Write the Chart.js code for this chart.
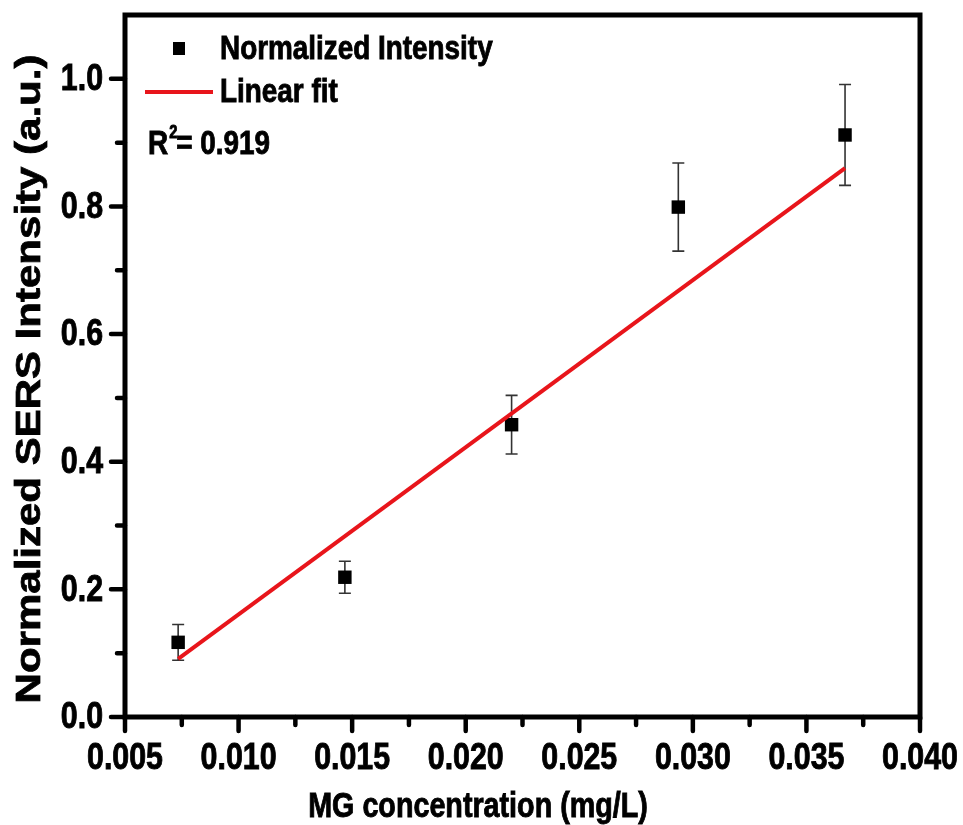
<!DOCTYPE html>
<html>
<head>
<meta charset="utf-8">
<script src="https://cdn.jsdelivr.net/npm/chart.js@4.4.1/dist/chart.umd.min.js"></script>
<style>
  html, body { margin: 0; padding: 0; background: #fff; }
  #wrap { width: 963px; height: 825px; }
</style>
</head>
<body>
<div id="wrap"><canvas id="grafico" width="963" height="825"></canvas></div>
<script>
// MG concentration (mg/L) and measured normalized SERS intensity
const concentrations = [0.00734, 0.01468, 0.02202, 0.02936, 0.0367];
const intensity = [0.117, 0.219, 0.458, 0.799, 0.912];
const intensityErr = [0.028, 0.025, 0.046, 0.069, 0.079];

// linear fit end points
const fitX = [0.00734, 0.0367];
const fitY = [0.091, 0.860];

const xTicks = [0.005, 0.010, 0.015, 0.020, 0.025, 0.030, 0.035, 0.040];
const yTicks = [0.0, 0.2, 0.4, 0.6, 0.8, 1.0];
const xMinor = [0.0075, 0.0125, 0.0175, 0.0225, 0.0275, 0.0325, 0.0375];
const yMinor = [0.1, 0.3, 0.5, 0.7, 0.9];

const legendLabels = ['Normalized Intensity', 'Linear fit'];
const r2Text = '0.919';
const xTitle = 'MG concentration (mg/L)';
const yTitle = 'Normalized SERS Intensity (a.u.)';

const FONT = '"Liberation Sans", Arial, sans-serif';
const SQUEEZE = 0.82; // el original tiene el texto estrechado

// texto en negrita, estrechado en horizontal (con un trazo fino para engordarlo)
function drawText(ctx, text, x, y, size, align, baseline) {
    ctx.save();
    ctx.translate(x, y);
    ctx.scale(SQUEEZE, 1);
    ctx.font = 'bold ' + size + 'px ' + FONT;
    ctx.textAlign = align;
    ctx.textBaseline = baseline;
    ctx.fillStyle = '#000';
    ctx.strokeStyle = '#000';
    ctx.lineWidth = 0.9;
    ctx.fillText(text, 0, 0);
    ctx.strokeText(text, 0, 0);
    const w = ctx.measureText(text).width * SQUEEZE;
    ctx.restore();
    return w;
}

// barras de error, debajo de los puntos
const errorBars = {
    id: 'errorBars',
    beforeDatasetsDraw(chart) {
        const { ctx, scales: { x, y } } = chart;
        ctx.save();
        ctx.strokeStyle = '#333';
        ctx.lineWidth = 1.6;
        concentrations.forEach((c, i) => {
            const px = x.getPixelForValue(c);
            const top = y.getPixelForValue(intensity[i] + intensityErr[i]);
            const bot = y.getPixelForValue(intensity[i] - intensityErr[i]);
            ctx.beginPath();
            ctx.moveTo(px, top); ctx.lineTo(px, bot);
            ctx.moveTo(px - 6, top); ctx.lineTo(px + 6, top);
            ctx.moveTo(px - 6, bot); ctx.lineTo(px + 6, bot);
            ctx.stroke();
        });
        ctx.restore();
    }
};

// marco, marcas y etiquetas de los ejes
const frame = {
    id: 'frame',
    afterDatasetsDraw(chart) {
        const { ctx, chartArea: a, scales: { x, y } } = chart;
        ctx.save();
        ctx.strokeStyle = '#000';
        ctx.lineWidth = 5;
        ctx.strokeRect(a.left, a.top, a.right - a.left, a.bottom - a.top);
        ctx.lineWidth = 4.5;
        ctx.lineCap = 'round';
        ctx.beginPath();
        xTicks.forEach(v => { const p = x.getPixelForValue(v); ctx.moveTo(p, a.bottom); ctx.lineTo(p, a.bottom + 14); });
        xMinor.forEach(v => { const p = x.getPixelForValue(v); ctx.moveTo(p, a.bottom); ctx.lineTo(p, a.bottom + 8); });
        yTicks.forEach(v => { const p = y.getPixelForValue(v); ctx.moveTo(a.left, p); ctx.lineTo(a.left - 14, p); });
        yMinor.forEach(v => { const p = y.getPixelForValue(v); ctx.moveTo(a.left, p); ctx.lineTo(a.left - 8, p); });
        ctx.stroke();

        xTicks.forEach(v => drawText(ctx, v.toFixed(3), x.getPixelForValue(v), a.bottom + 42, 37, 'center', 'middle'));
        yTicks.forEach(v => drawText(ctx, v.toFixed(1), a.left - 22, y.getPixelForValue(v) + 1, 37, 'right', 'middle'));
        ctx.restore();
    }
};

// leyenda, R2 y titulos de ejes
const labels = {
    id: 'labels',
    afterDraw(chart) {
        const { ctx } = chart;
        ctx.save();
        ctx.fillStyle = '#000';
        ctx.fillRect(173, 42, 12, 13);
        ctx.strokeStyle = '#e8151b';
        ctx.lineWidth = 4;
        ctx.beginPath(); ctx.moveTo(145, 92); ctx.lineTo(213, 92); ctx.stroke();

        drawText(ctx, legendLabels[0], 220, 59, 34, 'left', 'alphabetic');
        drawText(ctx, legendLabels[1], 220, 102, 34, 'left', 'alphabetic');
        const rw = drawText(ctx, 'R', 148, 154, 34, 'left', 'alphabetic');
        drawText(ctx, '2', 148 + rw + 1, 138, 18, 'left', 'alphabetic');
        drawText(ctx, '= ' + r2Text, 148 + rw + 8, 154, 34, 'left', 'alphabetic');

        drawText(ctx, xTitle, 478, 807, 35, 'center', 'middle');

        ctx.translate(30, 379);
        ctx.rotate(-Math.PI / 2);
        ctx.scale(1, 0.85);
        ctx.font = 'bold 42px ' + FONT;
        ctx.textAlign = 'center';
        ctx.textBaseline = 'middle';
        ctx.strokeStyle = '#000';
        ctx.lineWidth = 0.9;
        ctx.fillText(yTitle, 0, 0);
        ctx.strokeText(yTitle, 0, 0);
        ctx.restore();
    }
};

new Chart(document.getElementById('grafico').getContext('2d'), {
    type: 'scatter',
    data: {
        datasets: [{
            label: legendLabels[0],
            data: concentrations.map((c, i) => ({ x: c, y: intensity[i] })),
            pointStyle: 'rect',
            pointRadius: 9.5,
            backgroundColor: '#000',
            borderColor: '#000',
            borderWidth: 0,
            order: 1
        }, {
            label: legendLabels[1],
            data: fitX.map((c, i) => ({ x: c, y: fitY[i] })),
            showLine: true,
            borderColor: '#e8151b',
            borderWidth: 4,
            pointRadius: 0,
            order: 0
        }]
    },
    options: {
        responsive: false,
        animation: false,
        events: [],
        layout: { padding: { top: 15, right: 43, left: 0, bottom: 0 } },
        plugins: { legend: { display: false }, tooltip: { enabled: false } },
        scales: {
            x: {
                type: 'linear', min: 0.005, max: 0.04,
                afterBuildTicks: s => { s.ticks = xTicks.map(v => ({ value: v })); },
                afterFit: s => { s.height = 108; s.paddingLeft = 0; s.paddingRight = 0; },
                grid: { display: false, drawTicks: false },
                border: { display: false },
                ticks: { display: false }
            },
            y: {
                type: 'linear', min: 0, max: 1.1,
                afterBuildTicks: s => { s.ticks = yTicks.map(v => ({ value: v })); },
                afterFit: s => { s.width = 125; s.paddingTop = 0; s.paddingBottom = 0; },
                grid: { display: false, drawTicks: false },
                border: { display: false },
                ticks: { display: false }
            }
        }
    },
    plugins: [errorBars, frame, labels]
});
</script>
</body>
</html>
